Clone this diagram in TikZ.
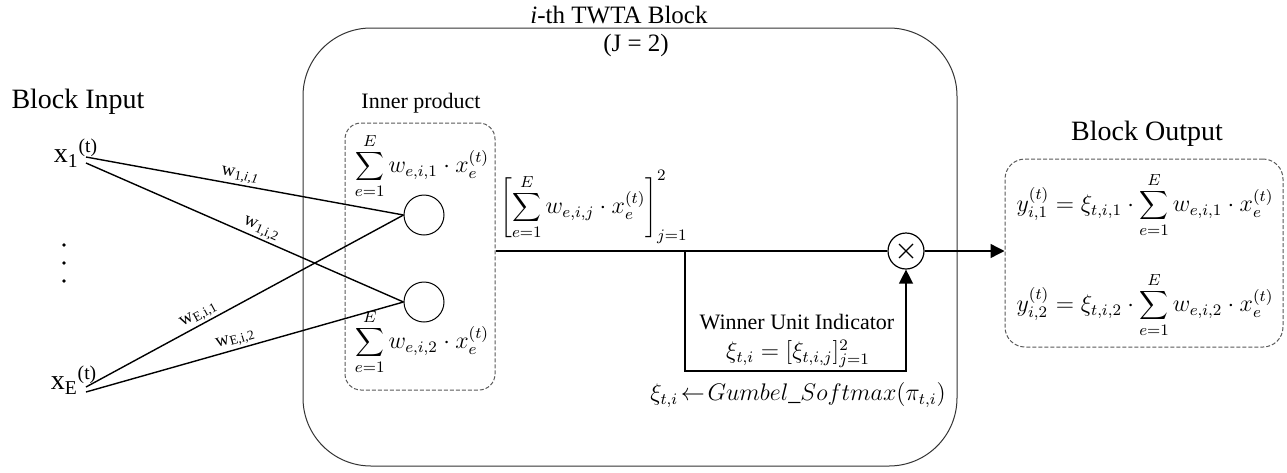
\documentclass[tikz,border=0pt]{standalone}
\usepackage{fontspec}
\setmainfont{Liberation Serif}
\usetikzlibrary{arrows.meta,calc}
\tikzset{
  lbl/.style={font=\fontsize{9.5}{11}\selectfont, inner sep=1pt},
  conn/.style={line width=0.7pt},
  mth/.style={font=\fontsize{12}{14}\selectfont, inner sep=0pt},
  tip/.style={-{Triangle[length=7pt,width=7pt]}},
  dbox/.style={draw=black!65, dash pattern=on 2pt off 1pt, rounded corners=8pt, line width=0.5pt, inner sep=0pt},
  neuron/.style={circle, draw, line width=0.5pt, minimum size=20pt, inner sep=0pt},
  bigtxt/.style={font=\fontsize{14}{16}\selectfont, inner sep=0pt},
  midtxt/.style={font=\fontsize{11}{13}\selectfont, inner sep=0pt}
}
\begin{document}
\begin{tikzpicture}[x=0.5pt,y=-0.5pt]
\useasboundingbox (0,0) rectangle (1287,472);
% big block
\node[draw=black!80, line width=0.5pt, rounded corners=34pt, minimum width=327pt, minimum height=219pt, inner sep=0pt] (block) at (630,247) {};
\node[font=\fontsize{12.5}{14}\selectfont, inner sep=0pt] (title) at (619,15) {\textit{i}-th TWTA Block};
\node[font=\fontsize{12.5}{14}\selectfont, inner sep=0pt] (jval) at (636,45) {(J = 2)};
% inputs
\node[bigtxt] (bin) at (78,102) {Block Input};
\node[bigtxt] (x1) at (76,153) {x\textsubscript{1}\textsuperscript{(t)}};
\node[bigtxt] (xE) at (74,380) {x\textsubscript{E}\textsuperscript{(t)}};
\coordinate (x1a) at (86,157);
\coordinate (x1b) at (86,163);
\coordinate (xEa) at (86,387);
\coordinate (xEb) at (86,392);
\fill (64,245) circle (1.8);
\fill (64,263) circle (1.8);
\fill (64,281) circle (1.8);
% inner product box
\node[midtxt] (iplab) at (421,103) {Inner product};
\node[dbox, minimum width=75pt, minimum height=133.5pt] (ipbox) at (420,256.5) {};
\node[neuron] (n1) at (424,215) {};
\node[neuron] (n2) at (424,302) {};
\node[mth] (s1) at (422,166) {$\displaystyle\sum_{e=1}^{E} w_{e,i,1}\cdot x_e^{(t)}$};
\node[mth] (s2) at (422,342) {$\displaystyle\sum_{e=1}^{E} w_{e,i,2}\cdot x_e^{(t)}$};
% weights
\draw[conn] (x1a) -- node[lbl, sloped, above, pos=0.48] {w\textsubscript{1,\textit{i,1}}} (n1.west);
\draw[conn] (x1b) -- node[lbl, sloped, above, pos=0.54] {w\textsubscript{1,i,2}} (n2.west);
\draw[conn] (xEa) -- node[lbl, sloped, above, pos=0.37] {w\textsubscript{E,i,1}} (n1.west);
\draw[conn] (xEb) -- node[lbl, sloped, above, pos=0.48] {w\textsubscript{E,i,2}} (n2.west);
% bracket formula
\node[mth] (br) at (594,207) {$\left[\displaystyle\sum_{e=1}^{E} w_{e,i,j}\cdot x_e^{(t)}\right]_{j=1}^{2}$};
% multiplier
\node[circle, draw, line width=0.6pt, minimum size=18pt, inner sep=0pt] (ot) at (906,251) {};
\draw[line width=0.6pt] ([shift={(-7,-7)}]ot.center) -- ([shift={(7,7)}]ot.center);
\draw[line width=0.6pt] ([shift={(-7,7)}]ot.center) -- ([shift={(7,-7)}]ot.center);
\draw[conn] (ipbox.east |- ot.west) -- (ot.west);
\coordinate (jn) at (685,251);
\coordinate (jb) at (685,371);
\draw[conn, tip] (jn) -- (jb) -| (ot.south);
\node[midtxt] (wui) at (797,322) {Winner Unit Indicator};
\node[mth] (xi) at (798,354) {$\xi_{t,i} = [\xi_{t,i,j}]_{j=1}^{2}$};
\node[mth] (gum) at (798,395) {$\xi_{t,i}\!\leftarrow\! Gumbel\_Softmax\bigl(\pi_{t,i}\bigr)$};
% output
\node[bigtxt] (bout) at (1147,134) {Block Output};
\node[dbox, rounded corners=10pt, minimum width=139pt, minimum height=94pt] (outbox) at (1144,253) {};
\draw[conn, tip] (ot.east) -- (ot.east -| outbox.west);
\node[mth] (y1) at (1145,205) {$y_{i,1}^{(t)} = \xi_{t,i,1}\cdot\displaystyle\sum_{e=1}^{E} w_{e,i,1}\cdot x_e^{(t)}$};
\node[mth] (y2) at (1145,305) {$y_{i,2}^{(t)} = \xi_{t,i,2}\cdot\displaystyle\sum_{e=1}^{E} w_{e,i,2}\cdot x_e^{(t)}$};
\end{tikzpicture}
\end{document}
